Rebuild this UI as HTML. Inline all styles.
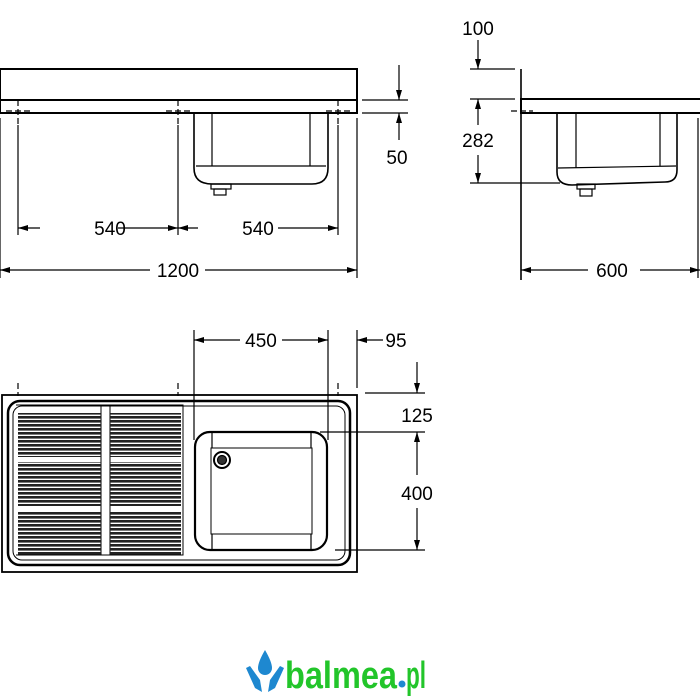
<!DOCTYPE html>
<html><head><meta charset="utf-8"><style>
html,body{margin:0;padding:0;background:#fff;width:700px;height:700px;overflow:hidden}
svg{display:block}
text{font-family:"Liberation Sans",sans-serif;font-size:19px;fill:#000}
</style></head><body>
<svg width="700" height="700" viewBox="0 0 700 700" xmlns="http://www.w3.org/2000/svg">
<defs>
<marker id="a" viewBox="0 0 10 6" refX="10" refY="3" markerWidth="13" markerHeight="6" markerUnits="userSpaceOnUse" orient="auto"><path d="M0,0L10,3L0,6z" fill="#000"/></marker>
<pattern id="rib" width="4" height="4" patternUnits="userSpaceOnUse"><rect width="4" height="2.6" fill="#222"/></pattern>
</defs>
<g fill="none" stroke="#000" stroke-width="1.2">
<rect x="0" y="69" width="357" height="31" stroke-width="2"/>
<rect x="0" y="100" width="357" height="13" stroke-width="2"/>
<g stroke-dasharray="6,3"><line x1="18" y1="100" x2="18" y2="125"/><line x1="178" y1="100" x2="178" y2="125"/><line x1="338" y1="100" x2="338" y2="125"/>
<line x1="6" y1="111" x2="30" y2="111"/><line x1="166" y1="111" x2="190" y2="111"/><line x1="326" y1="111" x2="350" y2="111"/></g>
<line x1="18" y1="125" x2="18" y2="235"/><line x1="178" y1="125" x2="178" y2="235"/><line x1="338" y1="125" x2="338" y2="235"/>
<line x1="0" y1="118" x2="0" y2="278"/><line x1="357" y1="118" x2="357" y2="278"/>
<path d="M194,113V168Q194,184 212,184H312Q328,184 328,168V113" stroke-width="1.6"/>
<line x1="212" y1="113" x2="212" y2="166"/><line x1="310" y1="113" x2="310" y2="166"/>
<line x1="196" y1="166" x2="326" y2="166"/>
<rect x="211" y="184" width="20" height="5"/><rect x="214" y="189" width="12" height="6"/>
<line x1="40" y1="228" x2="18" y2="228" marker-end="url(#a)"/><line x1="118" y1="228" x2="178" y2="228" marker-end="url(#a)"/>
<line x1="198" y1="228" x2="178" y2="228" marker-end="url(#a)"/><line x1="278" y1="228" x2="338" y2="228" marker-end="url(#a)"/>
<line x1="150" y1="270" x2="0" y2="270" marker-end="url(#a)"/><line x1="205" y1="270" x2="357" y2="270" marker-end="url(#a)"/>
<line x1="362" y1="100" x2="408" y2="100"/><line x1="362" y1="113" x2="408" y2="113"/>
<line x1="399" y1="65" x2="399" y2="100" marker-end="url(#a)"/><line x1="399" y1="140" x2="399" y2="113" marker-end="url(#a)"/>
<line x1="521" y1="69" x2="521" y2="280" stroke-width="1.6"/>
<rect x="521" y="99" width="180" height="14" stroke-width="2"/>
<line x1="511" y1="111" x2="533" y2="111" stroke-dasharray="6,3"/>
<line x1="698" y1="118" x2="698" y2="278"/>
<path d="M557,113V172Q557,185 572,185L665,182Q677,182 677,170V113" stroke-width="1.6"/>
<line x1="576" y1="113" x2="576" y2="168"/><line x1="660" y1="113" x2="660" y2="166"/>
<line x1="558" y1="168" x2="676" y2="166"/>
<rect x="577" y="184" width="18" height="5"/><rect x="580" y="189" width="12" height="7"/>
<line x1="470" y1="69" x2="515" y2="69"/><line x1="470" y1="99" x2="515" y2="99"/><line x1="470" y1="183" x2="560" y2="183"/>
<line x1="478" y1="40" x2="478" y2="69" marker-end="url(#a)"/>
<line x1="478" y1="125" x2="478" y2="99" marker-end="url(#a)"/><line x1="478" y1="155" x2="478" y2="183" marker-end="url(#a)"/>
<line x1="588" y1="270" x2="521" y2="270" marker-end="url(#a)"/><line x1="640" y1="270" x2="700" y2="270" marker-end="url(#a)"/>
<rect x="2" y="395" width="355" height="177" stroke-width="1.8"/>
<rect x="8" y="401" width="342" height="164" rx="12" stroke-width="2.5"/>
<rect x="13" y="406" width="332" height="154" rx="9" stroke-width="1"/>
<g stroke-dasharray="6,3"><line x1="18" y1="383" x2="18" y2="396"/><line x1="178" y1="383" x2="178" y2="396"/><line x1="338" y1="383" x2="338" y2="396"/></g>
<path d="M16,405H183V555H16" stroke-width="1"/>
<rect x="101" y="405" width="9" height="150" stroke-width="1"/>
<rect x="18" y="413" width="83" height="44" fill="url(#rib)" stroke="none"/>
<rect x="110" y="413" width="71" height="44" fill="url(#rib)" stroke="none"/>
<rect x="18" y="462" width="83" height="44" fill="url(#rib)" stroke="none"/>
<rect x="110" y="462" width="71" height="44" fill="url(#rib)" stroke="none"/>
<rect x="18" y="511" width="83" height="44" fill="url(#rib)" stroke="none"/>
<rect x="110" y="511" width="71" height="44" fill="url(#rib)" stroke="none"/>
<rect x="195" y="432" width="132" height="118" rx="15" stroke-width="2.2"/>
<rect x="211" y="448" width="101" height="86" stroke-width="1"/>
<line x1="212" y1="432" x2="212" y2="448"/><line x1="311" y1="432" x2="311" y2="448"/>
<line x1="212" y1="534" x2="212" y2="550"/><line x1="311" y1="534" x2="311" y2="550"/>
<circle cx="222" cy="460" r="8" stroke-width="2"/><circle cx="222" cy="460" r="4.5" fill="#333"/>
<line x1="194" y1="330" x2="194" y2="440"/><line x1="328" y1="330" x2="328" y2="440"/><line x1="357" y1="330" x2="357" y2="388"/>
<line x1="240" y1="340" x2="194" y2="340" marker-end="url(#a)"/><line x1="282" y1="340" x2="328" y2="340" marker-end="url(#a)"/>
<line x1="383" y1="340" x2="357" y2="340" marker-end="url(#a)"/>
<line x1="365" y1="393" x2="425" y2="393"/><line x1="320" y1="432" x2="425" y2="432"/><line x1="335" y1="550" x2="425" y2="550"/>
<line x1="417" y1="362" x2="417" y2="393" marker-end="url(#a)"/>
<line x1="417" y1="475" x2="417" y2="432" marker-end="url(#a)"/><line x1="417" y1="508" x2="417" y2="550" marker-end="url(#a)"/>
</g>
<text x="110" y="235" text-anchor="middle">540</text>
<text x="258" y="235" text-anchor="middle">540</text>
<text x="178" y="277" text-anchor="middle">1200</text>
<text x="397" y="164" text-anchor="middle">50</text>
<text x="478" y="35" text-anchor="middle">100</text>
<text x="478" y="147" text-anchor="middle">282</text>
<text x="612" y="277" text-anchor="middle">600</text>
<text x="261" y="347" text-anchor="middle">450</text>
<text x="396" y="347" text-anchor="middle">95</text>
<text x="417" y="422" text-anchor="middle">125</text>
<text x="417" y="500" text-anchor="middle">400</text>
<g>
<path d="M265,650 Q258,662 258,668 A7,7 0 0 0 272,668 Q272,662 265,650z" fill="#1e88d0"/>
<path d="M246,668 L250,666 L260,680 L262,692 L255,688 Z M284,668 L280,666 L270,680 L268,692 L275,688 Z" fill="#1e88d0"/>
</g>
<text x="285" y="688" textLength="112" lengthAdjust="spacingAndGlyphs" style="font-size:38px;font-weight:bold;fill:#22c52a">balmea</text>
<circle cx="402" cy="684" r="3.5" fill="#1e88d0"/>
<text x="406" y="688" textLength="20" lengthAdjust="spacingAndGlyphs" style="font-size:38px;font-weight:bold;fill:#22c52a">pl</text>
</svg>
</body></html>
